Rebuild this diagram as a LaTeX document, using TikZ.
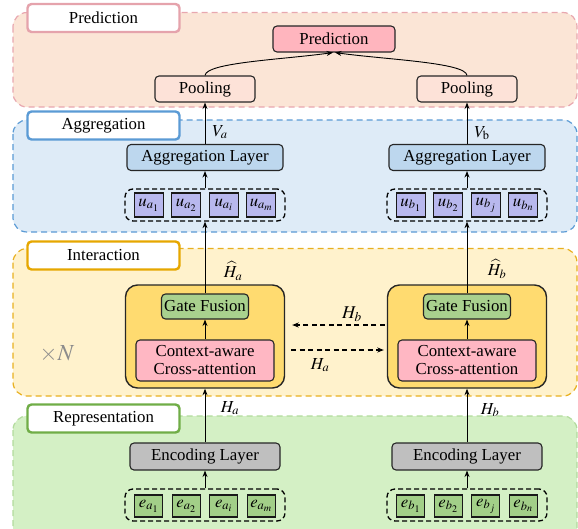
\documentclass[tikz,border=0pt]{standalone}
\usepackage{mathptmx}
\usepackage{fontspec}
\setmainfont{Liberation Serif}
\usetikzlibrary{arrows.meta,calc}
\definecolor{predfill}{HTML}{FBE5D6}
\definecolor{predline}{HTML}{E8A7AF}
\definecolor{predlab}{HTML}{E5A3AC}
\definecolor{predbox}{HTML}{FFB5BE}
\definecolor{poolbox}{HTML}{FDE2D8}
\definecolor{aggfill}{HTML}{DEEBF7}
\definecolor{aggline}{HTML}{5B9BD5}
\definecolor{aggbox}{HTML}{BDD7EE}
\definecolor{ubox}{HTML}{B8B8EE}
\definecolor{intfill}{HTML}{FFF2CC}
\definecolor{intline}{HTML}{E8B020}
\definecolor{intlab}{HTML}{E6A700}
\definecolor{bigbox}{HTML}{FFDB70}
\definecolor{gatebox}{HTML}{A9D18E}
\definecolor{ctxbox}{HTML}{FFB7C3}
\definecolor{repfill}{HTML}{D4F0C5}
\definecolor{repline}{HTML}{B2DB9C}
\definecolor{replab}{HTML}{70AD47}
\definecolor{encbox}{HTML}{BFBFBF}
\definecolor{ebox}{HTML}{A2CF88}
\tikzset{
  panel/.style={dashed, dash pattern=on 6pt off 4pt, rounded corners=14pt, line width=1.2pt},
  lbl/.style={minimum width=152pt, minimum height=28pt, rounded corners=4pt, fill=white, line width=2.4pt, inner sep=0pt},
  box/.style={draw=black!85, line width=1.1pt, rounded corners=4pt, inner sep=0pt, align=center},
  grp/.style={draw=black, dashed, dash pattern=on 5pt off 3pt, line width=1.3pt, rounded corners=8pt, minimum width=160pt, minimum height=32pt, inner sep=0pt},
  tok/.style={draw=black!90, line width=1.1pt, inner sep=0pt, minimum width=29pt, minimum height=24pt},
  arr/.style={->, line width=0.9pt},
  darr/.style={->, line width=1.1pt, dashed, dash pattern=on 5pt off 3.5pt},
}
\begin{document}
\begin{tikzpicture}[x=1pt,y=-1pt, font=\fontsize{16.8}{19}\selectfont, >={Stealth[length=6.5pt,width=5pt]}]
\useasboundingbox (0,0) rectangle (578,528);
\clip (0,0) rectangle (578,528);
% panels
\draw[panel, fill=predfill, draw=predline] (13,12.5) rectangle (577,107);
\draw[panel, fill=aggfill, draw=aggline] (13,120) rectangle (577,232);
\draw[panel, fill=intfill, draw=intline] (13,248.5) rectangle (577,396);
\draw[panel, fill=repfill, draw=repline] (13,416) rectangle (577,548);
% panel labels
\node[lbl, draw=predlab] (lpred) at (103.5,18) {Prediction};
\node[lbl, draw=aggline] (lagg) at (103.5,125.5) {Aggregation};
\node[lbl, draw=intlab] (lint) at (103.5,255.5) {Interaction};
\node[lbl, draw=replab] (lrep) at (103.5,418.5) {Representation};
% prediction
\node[box, fill=predbox, minimum width=122pt, minimum height=26pt] (pred) at (334,39) {Prediction};
\foreach \s/\cx/\n/\sub/\j/\last in {L/205/a/a/i/m, R/467/b/b/j/n}{
  \node[box, fill=poolbox, minimum width=100pt, minimum height=26pt] (pool\s) at (\cx,89) {Pooling};
  \node[box, fill=aggbox, minimum width=156pt, minimum height=26pt] (agg\s) at (\cx,157.5) {Aggregation Layer};
  \node[grp] (ug\s) at (\cx,205) {};
  \node[tok, fill=ubox] (u1\s) at (\cx-56.25,205) {$u_{\sub_1}$};
  \node[tok, fill=ubox] (u2\s) at (\cx-18.75,205) {$u_{\sub_2}$};
  \node[tok, fill=ubox] (u3\s) at (\cx+18.75,205) {$u_{\sub_\j}$};
  \node[tok, fill=ubox] (u4\s) at (\cx+56.25,205) {$u_{\sub_\last}$};
  \node[box, fill=bigbox, line width=1.4pt, rounded corners=12pt, minimum width=159pt, minimum height=103pt] (big\s) at (\cx,336.5) {};
  \node[box, fill=gatebox, minimum width=87pt, minimum height=25pt] (gate\s) at (\cx,306.5) {Gate Fusion};
  \node[box, fill=ctxbox, minimum width=138pt, minimum height=41pt, font=\fontsize{16.8}{18}\selectfont] (ctx\s) at (\cx,360.5) {Context-aware\\Cross-attention};
  \node[box, fill=encbox, minimum width=150pt, minimum height=27pt] (enc\s) at (\cx,456.5) {Encoding Layer};
  \node[grp] (eg\s) at (\cx,505) {};
  \node[tok, fill=ebox, minimum width=28pt, minimum height=22pt] (e1\s) at (\cx-56.25,506) {$e_{\sub_1}$};
  \node[tok, fill=ebox, minimum width=28pt, minimum height=22pt] (e2\s) at (\cx-18.75,506) {$e_{\sub_2}$};
  \node[tok, fill=ebox, minimum width=28pt, minimum height=22pt] (e3\s) at (\cx+18.75,506) {$e_{\sub_\j}$};
  \node[tok, fill=ebox, minimum width=28pt, minimum height=22pt] (e4\s) at (\cx+56.25,506) {$e_{\sub_\last}$};
  \draw[arr] (eg\s.north) -- (enc\s.south);
  \draw[arr] (enc\s.north) -- (big\s.south);
  \draw[arr] (ctx\s.north) -- (gate\s.south);
  \draw[arr] (gate\s.north) -- (ug\s.south);
  \draw[arr] (ug\s.north) -- (agg\s.south);
  \draw[arr] (agg\s.north) -- (pool\s.south);
}
\draw[arr] (poolL.north) .. controls +(1,-13) and +(-50,7) .. ([xshift=-1pt]pred.south);
\draw[arr] (poolR.north) .. controls +(-1,-13) and +(50,7) .. ([xshift=1pt]pred.south);
% edge labels
\node (va) at (220,132) {$V_a$};
\node (vb) at (482,133) {$V_{\mathrm{b}}$};
\node (hha) at (233,271) {$\widehat{H}_a$};
\node (hhb) at (497,269) {$\widehat{H}_b$};
\node (ha) at (230,408) {$H_a$};
\node (hb) at (490,410) {$H_b$};
% cross arrows
\draw[darr] ([xshift=-2pt,yshift=11.5pt]bigR.west) -- ([xshift=7pt,yshift=11.5pt]bigL.east);
\draw[darr] ([xshift=6pt,yshift=-13.5pt]bigL.east) -- ([xshift=-3pt,yshift=-13.5pt]bigR.west);
\node[font=\fontsize{18}{20}\selectfont] (xhb) at (352,314) {$H_b$};
\node (xha) at (320,365) {$H_a$};
\node[text=black!45, font=\fontsize{23}{26}\selectfont] (xn) at (57,354) {$\times N$};
\end{tikzpicture}
\end{document}
